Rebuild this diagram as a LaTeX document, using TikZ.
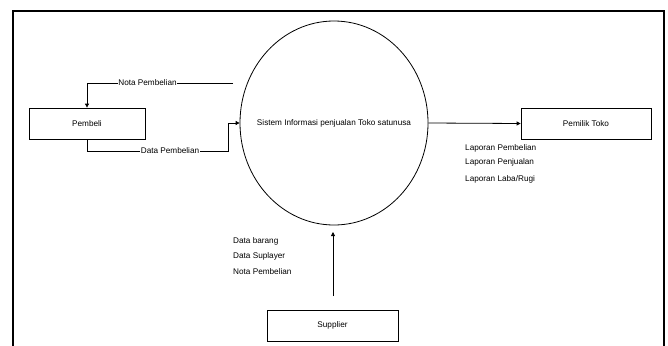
\documentclass[tikz,border=0pt]{standalone}
\usepackage{fontspec}
\setmainfont{Liberation Sans}
\usetikzlibrary{shapes.geometric,arrows.meta}
\tikzset{
  lbl/.style={font=\fontsize{8.2}{9.5}\selectfont, inner sep=0pt},
  entity/.style={draw, line width=0.8pt, rectangle, inner sep=0pt, font=\fontsize{8.2}{9.5}\selectfont},
  proc/.style={draw, line width=0.8pt, ellipse, inner sep=0pt, minimum width=188pt, minimum height=204pt},
  flow/.style={line width=0.8pt, -{Triangle[length=4pt,width=4pt]}},
  onl/.style={lbl, fill=white, inner xsep=0.5pt},
  frame/.style={line width=1.6pt}
}
\begin{document}
\begin{tikzpicture}[x=1pt,y=-1pt]
\useasboundingbox (0,0) rectangle (668,345);
\draw[frame] (13,346) -- (13,11) -- (664,11) -- (664,346);
\node[proc] (sis) at (334,123) {};
\node[lbl] (sistext) at (sis.center) {Sistem Informasi penjualan Toko satunusa};
\node[entity, minimum width=116pt, minimum height=31pt] (pembeli) at (87,123.5) {Pembeli};
\node[entity, minimum width=130pt, minimum height=31pt] (pemilik) at (586,123.5) {Pemilik Toko};
\node[entity, minimum width=131pt, minimum height=31pt] (supplier) at (332.5,325.5) {Supplier};
\coordinate (notastart) at (233,83);
\coordinate (supA) at (333,296);
\coordinate (supB) at (333,232);
\draw[flow] (notastart) -- (pembeli.north |- notastart) -- (pembeli.north);
\node[onl] at (147.5,83) {Nota Pembelian};
\draw[flow] (pembeli.south) -- ++(0,12) -| (228,123) -- (sis.west);
\node[onl] at (170,151) {Data Pembelian};
\draw[flow] (sis.east) -- (pemilik.west);
\draw[flow] (supA) -- (supB);
\node[lbl, anchor=west] (lp1) at (465,148) {Laporan Pembelian};
\node[lbl, anchor=west] (lp2) at (465,162) {Laporan Penjualan};
\node[lbl, anchor=west] (lp3) at (465,179) {Laporan Laba/Rugi};
\node[lbl, anchor=west] (ds1) at (233,241) {Data barang};
\node[lbl, anchor=west] (ds2) at (233,256) {Data Suplayer};
\node[lbl, anchor=west] (ds3) at (233,272) {Nota Pembelian};
\end{tikzpicture}
\end{document}
